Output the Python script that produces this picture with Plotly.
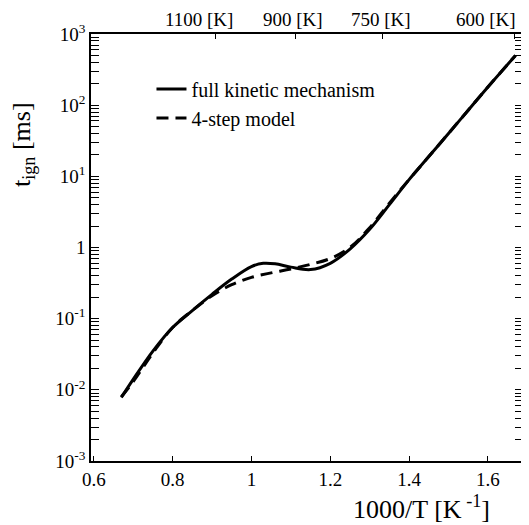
import plotly.graph_objects as go

# 1000/T values and ignition delay [ms]
x_full = [0.67, 0.70, 0.75, 0.80, 0.85, 0.90, 0.95, 1.00, 1.03, 1.06, 1.10,
          1.15, 1.20, 1.25, 1.30, 1.35, 1.40, 1.45, 1.50, 1.55, 1.60, 1.67]
t_full = [0.0078, 0.014, 0.035, 0.075, 0.13, 0.22, 0.36, 0.54, 0.60, 0.59, 0.53,
          0.49, 0.60, 0.95, 1.8, 4.0, 9.0, 19, 40, 85, 180, 500]

x_4step = [0.67, 0.70, 0.75, 0.80, 0.85, 0.90, 0.95, 1.00, 1.05, 1.10, 1.15,
           1.20, 1.25, 1.30, 1.35, 1.40, 1.45, 1.50, 1.55, 1.60, 1.67]
t_4step = [0.0080, 0.013, 0.033, 0.075, 0.13, 0.21, 0.30, 0.38, 0.44, 0.50, 0.58,
           0.70, 1.0, 1.9, 4.2, 9.0, 19, 40, 85, 180, 500]

y_ticks = [1e-3, 1e-2, 1e-1, 1, 10, 100, 1000]
y_labels = ["10<sup>-3</sup>", "10<sup>-2</sup>", "10<sup>-1</sup>", "1",
            "10<sup>1</sup>", "10<sup>2</sup>", "10<sup>3</sup>"]

temps = [1100, 900, 750, 600]
top_ticks = [1000 / T for T in temps]
top_labels = [f"{T} [K]" for T in temps]
top_label_shift = [-17, -2, -2, -28]  # hand placed labels in the original

font = "Liberation Serif"
xr = [0.593, 1.689]

fig = go.Figure()
fig.add_trace(go.Scatter(x=x_full, y=t_full, mode="lines", line_shape="spline",
                         name="full kinetic mechanism",
                         line=dict(color="black", width=3)))
fig.add_trace(go.Scatter(x=x_4step, y=t_4step, mode="lines", line_shape="spline",
                         name="4-step model",
                         line=dict(color="black", width=3, dash="12px,7px")))
# invisible trace to activate the top axis
fig.add_trace(go.Scatter(x=top_ticks, y=[1, 1, 1, 1], xaxis="x2", mode="markers",
                         marker=dict(opacity=0), showlegend=False, hoverinfo="skip"))

annotations = [
    dict(text="1000/T [K<sup> -1</sup>]", xref="paper", yref="paper",
         x=0.764, y=0, yshift=-46, xanchor="center", yanchor="middle",
         showarrow=False, font=dict(family=font, size=26)),
    dict(text="t<sub>ign</sub> [ms]", xref="paper", yref="paper",
         x=0, xshift=-68, y=0.74, xanchor="center", yanchor="middle",
         textangle=-90, showarrow=False, font=dict(family=font, size=26)),
]
for v, lab, s in zip(top_ticks, top_labels, top_label_shift):
    annotations.append(dict(text=lab, xref="x2", yref="paper", x=v, y=1,
                            xshift=s, yshift=15, xanchor="center", yanchor="middle",
                            showarrow=False, font=dict(family=font, size=19)))

# page body adds an 8px offset, so the figure is sized to fit the window
fig.update_layout(
    width=521, height=517,
    margin=dict(l=83, r=6, t=26, b=64),
    plot_bgcolor="white", paper_bgcolor="white",
    font=dict(family=font, size=18, color="black"),
    showlegend=True,
    legend=dict(x=0.14, y=0.917, xanchor="left", yanchor="top",
                bgcolor="rgba(0,0,0,0)", font=dict(size=20),
                tracegroupgap=0),
    xaxis=dict(range=xr, tickvals=[0.6, 0.8, 1.0, 1.2, 1.4, 1.6],
               ticktext=["0.6", "0.8", "1", "1.2", "1.4", "1.6"],
               ticks="inside", ticklen=5, tickcolor="black", automargin=False,
               tickfont=dict(size=19),
               showline=True, linecolor="black", linewidth=1.5,
               showgrid=False, zeroline=False, mirror=False),
    xaxis2=dict(range=xr, overlaying="x", side="top",
                tickvals=top_ticks, showticklabels=False, automargin=False,
                ticks="inside", ticklen=5, tickcolor="black",
                showline=True, linecolor="black", linewidth=1.5,
                showgrid=False, zeroline=False),
    yaxis=dict(type="log", range=[-3, 3], tickvals=y_ticks, ticktext=y_labels,
               ticks="inside", ticklen=8, tickcolor="black", automargin=False,
               tickfont=dict(size=19),
               minor=dict(ticks="inside", dtick="D1", ticklen=4,
                          tickcolor="black", showgrid=False),
               showline=True, linecolor="black", linewidth=1.5,
               mirror="allticks", showgrid=False, zeroline=False),
    annotations=annotations,
)

fig.write_html("out.html")
